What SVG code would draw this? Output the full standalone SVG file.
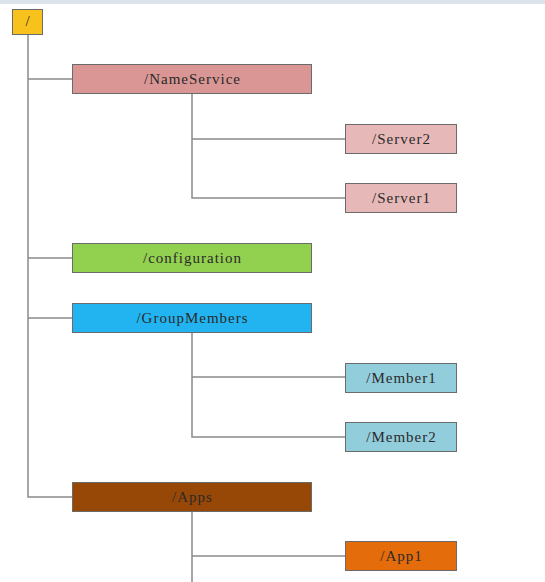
<svg xmlns="http://www.w3.org/2000/svg" width="545" height="582" viewBox="0 0 545 582">
<style>
.n rect{stroke:#6b6b6b;stroke-width:1}
.n text{font-family:"Liberation Serif","DejaVu Serif",serif;font-size:15px;letter-spacing:1px;fill:#2a2a2a;text-anchor:middle;dominant-baseline:central}
#edges path{fill:none;stroke:#8a8a8a;stroke-width:1.5}
</style>
<rect x="0" y="0" width="545" height="582" fill="#ffffff"/>
<rect x="0" y="0" width="545" height="4" fill="#dde3ea"/>
<g id="edges">
<path d="M28 34V497H72"/>
<path d="M28 79H72"/>
<path d="M28 258H72"/>
<path d="M28 318H72"/>
<path d="M192 94V198H345"/>
<path d="M192 139H345"/>
<path d="M192 332V437H345"/>
<path d="M192 377H345"/>
<path d="M192 512V582"/>
<path d="M192 556H345"/>
</g>
<g id="root" class="n"><rect x="12.5" y="9.5" width="30" height="25" fill="#f8c21c"/><text x="28" y="21">/</text></g>
<g id="nameservice" class="n"><rect x="72.5" y="64.5" width="239" height="29" fill="#d99694"/><text x="192.5" y="79">/NameService</text></g>
<g id="server2" class="n"><rect x="345.5" y="124.5" width="111" height="29" fill="#e6b9b8"/><text x="401.5" y="139">/Server2</text></g>
<g id="server1" class="n"><rect x="345.5" y="183.5" width="111" height="29" fill="#e6b9b8"/><text x="401.5" y="198">/Server1</text></g>
<g id="configuration" class="n"><rect x="72.5" y="243.5" width="239" height="29" fill="#92d050"/><text x="192.5" y="258">/configuration</text></g>
<g id="groupmembers" class="n"><rect x="72.5" y="303.5" width="239" height="29" fill="#22b4f0"/><text x="192.5" y="318">/GroupMembers</text></g>
<g id="member1" class="n"><rect x="345.5" y="363.5" width="111" height="29" fill="#92cddc"/><text x="401.5" y="378">/Member1</text></g>
<g id="member2" class="n"><rect x="345.5" y="422.5" width="111" height="29" fill="#92cddc"/><text x="401.5" y="437">/Member2</text></g>
<g id="apps" class="n"><rect x="72.5" y="482.5" width="239" height="29" fill="#974806"/><text x="192.5" y="497">/Apps</text></g>
<g id="app1" class="n"><rect x="345.5" y="541.5" width="111" height="29" fill="#e46c0a"/><text x="401.5" y="556">/App1</text></g>
</svg>
